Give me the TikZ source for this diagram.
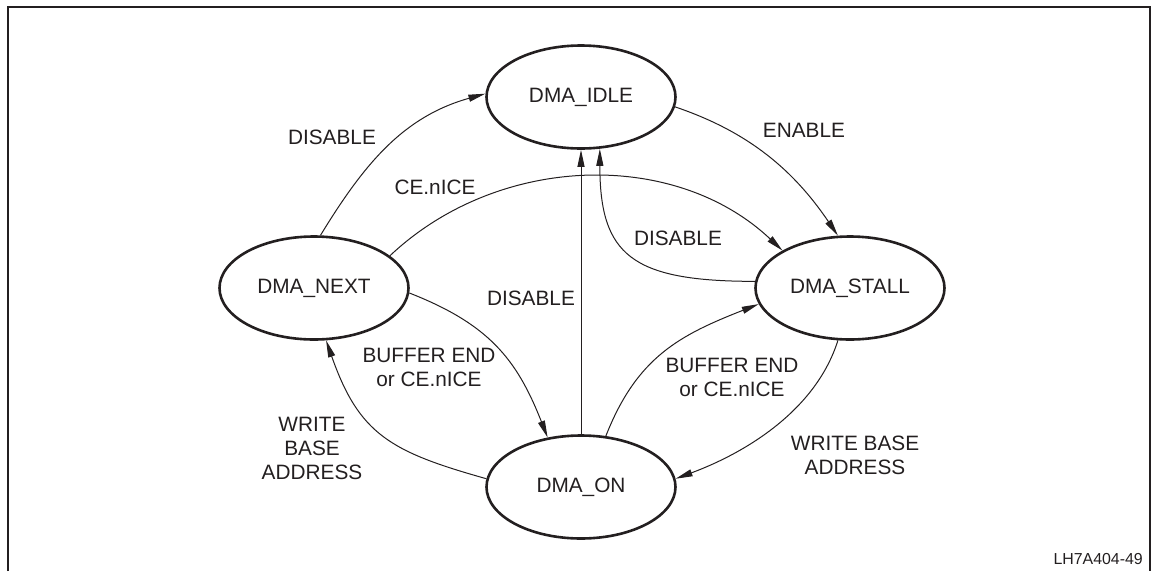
\documentclass[tikz,border=0pt]{standalone}
\usepackage{fontspec}
\setmainfont{Liberation Sans}
\usetikzlibrary{shapes.geometric,arrows.meta}
\definecolor{ink}{HTML}{231F20}
\begin{document}
\begin{tikzpicture}[x=1pt,y=1pt,
  state/.style={ellipse,draw=ink,line width=2.6pt,minimum width=189pt,minimum height=103pt,inner sep=0pt,font=\fontsize{20.8}{24}\selectfont,text=ink},
  lbl/.style={font=\fontsize{20.8}{24}\selectfont,text=ink,align=center,inner sep=0pt},
  tr/.style={draw=ink,line width=1pt,-{Triangle[length=17pt,width=7pt]}}]
\useasboundingbox (0,0) rectangle (1152,-571);
\draw[ink,line width=1.3pt] (8,-571) -- (8,-7) -- (1150,-7) -- (1150,-571);

\node[state] (idle)  at (581,-97)  {DMA\_IDLE};
\node[state] (next)  at (314,-288) {DMA\_NEXT};
\node[state] (stall) at (850,-288) {DMA\_STALL};
\node[state] (on)    at (581,-487) {DMA\_ON};

\draw[tr] (next.83) .. controls +(44,72) and +(-82,-23) .. (idle.178);
\draw[tr] (next.23) .. controls +(108,102) and +(-108,102) .. (stall.151);
\draw[tr] (idle.-6) .. controls +(74,-25) and +(-44,65) .. (stall.103);
\draw[tr] (stall.176) .. controls +(-124,0) and +(0,-106) .. (idle.-70);
\draw[tr] (on.90) -- (idle.-90);
\draw[tr] (next.-3) .. controls +(79,-31) and +(-31,79) .. (on.124);
\draw[tr] (on.64) .. controls +(31,79) and +(-79,-31) .. (stall.190);
\draw[tr] (stall.257) .. controls +(-22,-70) and +(70,26) .. (on.5);
\draw[tr] (on.175) .. controls +(-96,27) and +(33,-94) .. (next.-77);

\node[lbl] (l1) at (332,-137) {DISABLE};
\node[lbl] (l2) at (435,-187) {CE.nICE};
\node[lbl] (l3) at (804,-130) {ENABLE};
\node[lbl] (l4) at (678,-238) {DISABLE};
\node[lbl] (l5) at (531,-298) {DISABLE};
\node[lbl] (l6) at (429,-367) {BUFFER END\\or CE.nICE};
\node[lbl] (l7) at (732,-377) {BUFFER END\\or CE.nICE};
\node[lbl] (l8) at (855,-455) {WRITE BASE\\ADDRESS};
\node[lbl] (l9) at (312,-448) {WRITE\\BASE\\ADDRESS};
\node[font=\fontsize{15.9}{18}\selectfont,text=ink,anchor=east,inner sep=0pt] (fig) at (1143,-559) {LH7A404-49};
\end{tikzpicture}
\end{document}
